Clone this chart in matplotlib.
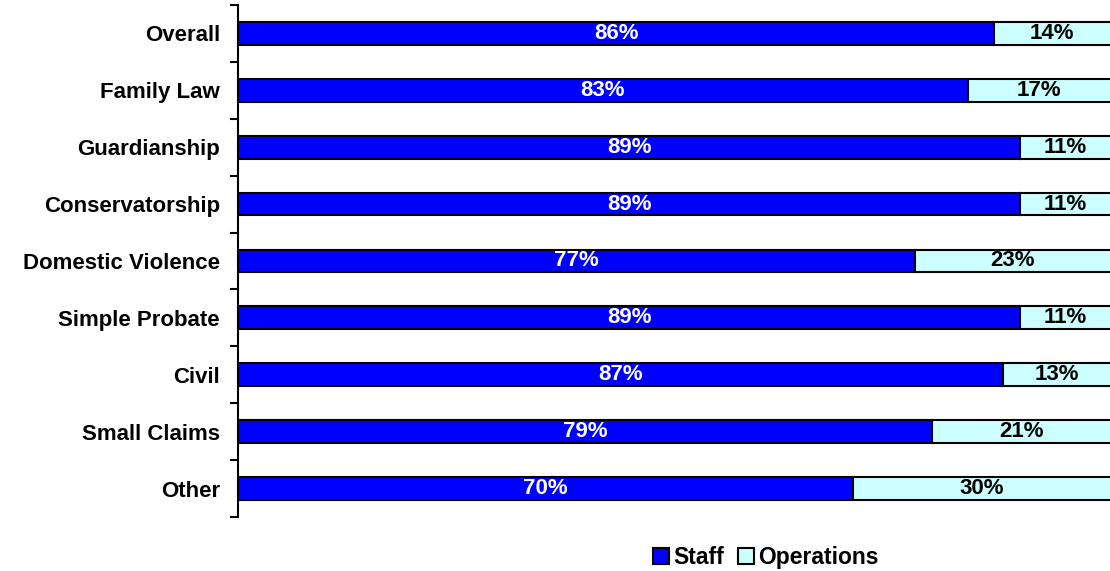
import matplotlib.pyplot as plt
from matplotlib.patches import Patch
import numpy as np

plt.rcParams['font.family'] = ['Liberation Sans', 'DejaVu Sans']

# Data
categories = ['Overall', 'Family Law', 'Guardianship', 'Conservatorship',
              'Domestic Violence', 'Simple Probate', 'Civil', 'Small Claims', 'Other']
staff = [86, 83, 89, 89, 77, 89, 87, 79, 70]
operations = [14, 17, 11, 11, 23, 11, 13, 21, 30]

fig = plt.figure(figsize=(11.1, 5.71), dpi=100)
ax = fig.add_axes([0.2144, 0.0946, 0.792, 0.8967])

y = np.arange(len(categories))
ax.barh(y, staff, height=0.4, color='#0000FF', edgecolor='black', linewidth=1.5, label='Staff')
ax.barh(y, operations, left=staff, height=0.4, color='#CCFFFF', edgecolor='black',
        linewidth=1.5, label='Operations')

for i in range(len(categories)):
    ax.text(staff[i] / 2, y[i], f'{staff[i]}%', ha='center', va='center',
            color='white', fontsize=16, fontweight='bold')
    ax.text(staff[i] + operations[i] / 2 - 0.4, y[i], f'{operations[i]}%', ha='center',
            va='center', color='black', fontsize=16, fontweight='bold')

ax.set_xlim(0, 100)
ax.set_ylim(len(categories) - 0.5, -0.5)
ax.set_yticks(y)
ax.set_yticklabels(categories, fontsize=16, fontweight='bold')
ax.set_yticks(np.arange(-0.5, len(categories)), minor=True)
ax.tick_params(axis='y', which='major', length=0, pad=13)
ax.tick_params(axis='y', which='minor', length=6, width=1.5, direction='out')
ax.set_xticks([])
for s in ['top', 'right', 'bottom']:
    ax.spines[s].set_visible(False)
ax.spines['left'].set_linewidth(1.5)

handles = [Patch(facecolor='#0000FF', edgecolor='black', linewidth=1.5, label='Staff'),
           Patch(facecolor='#CCFFFF', edgecolor='black', linewidth=1.5, label='Operations')]
fig.legend(handles=handles, loc='center', bbox_to_anchor=(0.69, 0.024), ncol=2,
           frameon=False, prop={'weight': 'bold', 'size': 16.5},
           handlelength=0.7, handleheight=0.7, handletextpad=0.2, columnspacing=0.6)

fig.savefig('out.png', dpi=100)
